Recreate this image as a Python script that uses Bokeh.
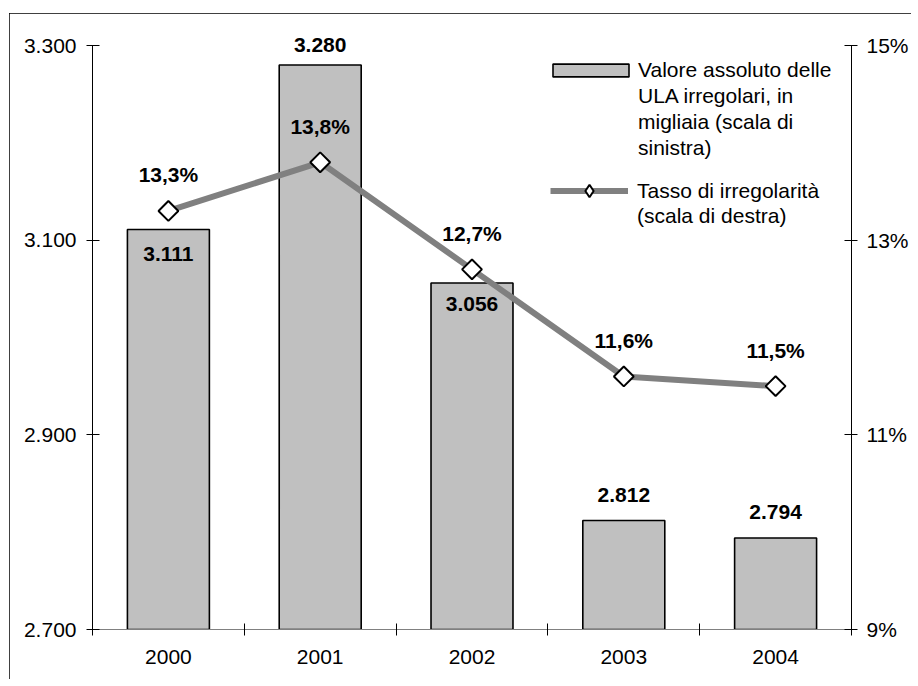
import numpy as np
from bokeh.plotting import figure
from bokeh.models import (Range1d, LinearAxis, FixedTicker, Legend, LegendItem,
                          ColumnDataSource, LabelSet)
from bokeh.core.properties import value
from bokeh.embed import file_html
from bokeh.resources import INLINE

# ---- data ----
years = ["2000", "2001", "2002", "2003", "2004"]
ula = [3111, 3280, 3056, 2812, 2794]          # migliaia (left scale)
tasso = [13.3, 13.8, 12.7, 11.6, 11.5]         # % (right scale)
left_ticks = [2700, 2900, 3100, 3300]
left_labels = ["2.700", "2.900", "3.100", "3.300"]
right_ticks = [9, 11, 13, 15]
right_labels = ["9%", "11%", "13%", "15%"]
bar_label_offsets = [-25, 20, -21, 25, 26]     # style: px offset of value labels (up = +)

FONT = "Liberation Sans"
FS = "21px"

# layout (pixels)
AXIS_PX = 584      # height of the scaled part of the axes
HEAD_PX = 20       # free room above the top tick (for labels)

def padded(lo, hi):
    return Range1d(lo, hi + HEAD_PX * (hi - lo) / AXIS_PX)

xs = [i + 0.5 for i in range(len(years))]
src = ColumnDataSource(dict(
    x=xs, ula=ula, tasso=tasso,
    ula_lbl=[f"{v:,}".replace(",", ".") for v in ula],
    tasso_lbl=[f"{v:.1f}%".replace(".", ",") for v in tasso],
    off=bar_label_offsets,
))

p = figure(width=902, height=666, output_backend="svg", toolbar_location=None,
           x_range=Range1d(0, len(years)), y_range=padded(left_ticks[0], left_ticks[-1]),
           x_axis_type=None, y_axis_type=None,
           min_border_left=83, min_border_right=53, min_border_top=32 - HEAD_PX,
           min_border_bottom=50)
p.styles = {"margin-left": "9px", "margin-top": "13px",
            "outline": "2px solid black", "outline-offset": "-2px"}
p.outline_line_color = None
p.xgrid.visible = False
p.ygrid.visible = False
p.extra_y_ranges = {"pct": padded(right_ticks[0], right_ticks[-1])}

def style_axis(ax):
    ax.major_label_text_font = FONT
    ax.major_label_text_font_size = FS
    ax.major_label_text_color = "black"
    ax.axis_line_color = "black"
    ax.major_tick_line_color = "black"
    ax.minor_tick_line_color = None
    ax.major_tick_in = 7
    ax.major_tick_out = 6

# left axis
yl = LinearAxis(ticker=FixedTicker(ticks=left_ticks, minor_ticks=[]),
                bounds=(left_ticks[0], left_ticks[-1]),
                major_label_overrides={t: l for t, l in zip(left_ticks, left_labels)})
style_axis(yl)
yl.major_label_standoff = 10
p.add_layout(yl, "left")

# right axis
yr = LinearAxis(y_range_name="pct", ticker=FixedTicker(ticks=right_ticks, minor_ticks=[]),
                bounds=(right_ticks[0], right_ticks[-1]),
                major_label_overrides={t: l for t, l in zip(right_ticks, right_labels)})
style_axis(yr)
yr.major_label_standoff = 9
p.add_layout(yr, "right")

# bottom axis: labels at category centres, ticks at boundaries
xa = LinearAxis(ticker=FixedTicker(ticks=xs, minor_ticks=list(range(len(years) + 1))),
                major_label_overrides={x: y for x, y in zip(xs, years)})
xa.major_label_text_font = FONT
xa.major_label_text_font_size = FS
xa.major_label_text_color = "black"
xa.axis_line_color = "#808080"
xa.major_tick_line_color = None
xa.minor_tick_line_color = "black"
xa.minor_tick_in = 6
xa.minor_tick_out = 6
xa.major_label_standoff = 14
p.add_layout(xa, "below")

# bars
bars = p.vbar(x="x", top="ula", bottom=left_ticks[0], width=0.54, source=src,
              fill_color="#C0C0C0", line_color="black", line_width=1.6)

# line with diamonds
line = p.line(x="x", y="tasso", source=src, y_range_name="pct",
              line_color="#808080", line_width=6)
# small diamond (hidden under the markers) used only for the legend swatch
leg_marker = p.scatter(x="x", y="tasso", source=src, y_range_name="pct", marker="diamond",
                       size=8, fill_color="white", line_color="black", line_width=2)
pts = p.scatter(x="x", y="tasso", source=src, y_range_name="pct", marker="square",
                angle=np.pi / 4, size=14, fill_color="white", line_color="black", line_width=2)

# value labels
p.add_layout(LabelSet(x="x", y="ula", text="ula_lbl", source=src, y_offset="off",
                      text_align="center", text_baseline="middle", text_font=value(FONT),
                      text_font_size=value(FS), text_font_style="bold", text_color="black"))
p.add_layout(LabelSet(x="x", y="tasso", text="tasso_lbl", source=src, y_range_name="pct",
                      y_offset=36, text_align="center", text_baseline="middle",
                      text_font=value(FONT), text_font_size=value(FS), text_font_style="bold",
                      text_color="black"))

# legends
dummy = p.scatter(x=[], y=[], alpha=0)

def make_legend(items, loc, gw, gh, standoff):
    return Legend(items=items, location=loc, padding=0, margin=0, spacing=0,
                  border_line_color=None, background_fill_alpha=0,
                  glyph_width=gw, glyph_height=gh, label_height=26, label_standoff=standoff,
                  label_text_font=FONT, label_text_font_size=FS, label_text_color="black")

leg1 = make_legend([
    LegendItem(label="Valore assoluto delle", renderers=[bars]),
    LegendItem(label="ULA irregolari, in", renderers=[dummy]),
    LegendItem(label="migliaia (scala di", renderers=[dummy]),
    LegendItem(label="sinistra)", renderers=[dummy]),
], (451, 468), 95, 16, 0)
leg2 = make_legend([
    LegendItem(label="Tasso di irregolarità", renderers=[line, leg_marker]),
], (458, 423), 78, 31, 9)
leg3 = make_legend([
    LegendItem(label="(scala di destra)", renderers=[dummy]),
], (458, 400), 78, 26, 9)
p.add_layout(leg1)
p.add_layout(leg2)
p.add_layout(leg3)

open("out.html", "w").write(file_html(p, INLINE))
